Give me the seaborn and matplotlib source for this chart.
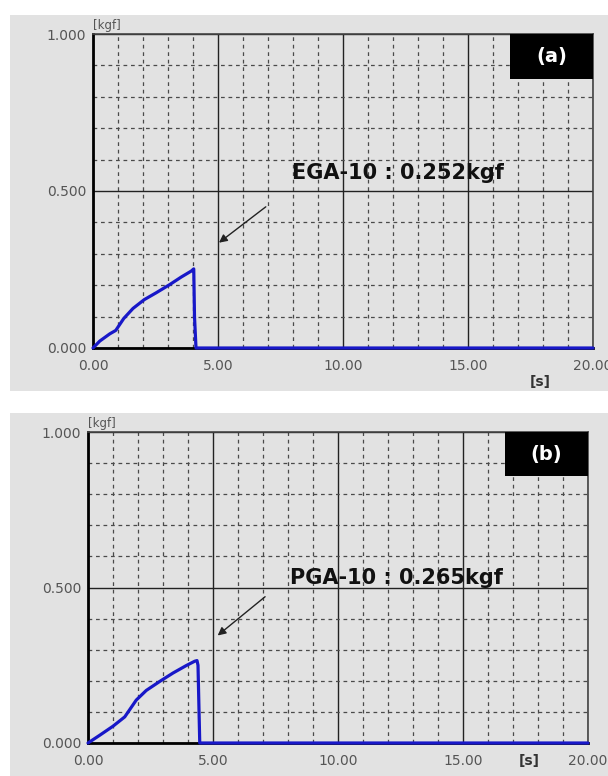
import matplotlib
matplotlib.use('Agg')
import matplotlib.pyplot as plt
from matplotlib.patches import Rectangle
from matplotlib.ticker import MultipleLocator
import seaborn as sns
import pandas as pd

# tempo [s] e força [kgf]
tempo_a = [0, 0.27, 0.67, 0.91, 1.23, 1.6, 2.05, 2.53, 3.07, 3.53, 3.93, 4.03, 4.06, 4.12, 20]
forca_a = [0, 0.022, 0.045, 0.056, 0.094, 0.126, 0.154, 0.176, 0.202, 0.226, 0.245, 0.252, 0.10, 0, 0]

tempo_b = [0, 0.47, 1.0, 1.47, 1.93, 2.33, 2.87, 3.4, 3.93, 4.27, 4.36, 4.40, 4.47, 20]
forca_b = [0, 0.025, 0.054, 0.084, 0.138, 0.169, 0.198, 0.225, 0.249, 0.263, 0.265, 0.25, 0, 0]

rotulos = ['(a)', '(b)']
textos = ['EGA-10 : 0.252kgf', 'PGA-10 : 0.265kgf']
x_ticks = [0, 5, 10, 15, 20]
y_ticks = [0, 0.5, 1.0]

sns.set_style('white')
plt.rcParams['font.family'] = ['DejaVu Sans']

cinza = '#e2e2e2'
azul = '#1818c8'

fig = plt.figure(figsize=(6.08, 7.76), dpi=100)
fig.patch.set_facecolor('white')

# fundos cinzentos de cada painel
fig.patches.append(Rectangle((10/608, 1-391/776), 598/608, 376/776, transform=fig.transFigure,
                             facecolor=cinza, edgecolor='none', zorder=-10))
fig.patches.append(Rectangle((10/608, 0), 598/608, 363/776, transform=fig.transFigure,
                             facecolor=cinza, edgecolor='none', zorder=-10))

ax_a = fig.add_axes([93/608, 1-348/776, 500/608, 314/776])
ax_b = fig.add_axes([88/608, 1-743/776, 500/608, 311/776])

configs = [
    (ax_a, tempo_a, forca_a, (7.94, 0.557), (7.0, 0.455), (4.95, 0.33), (0.894, -0.108)),
    (ax_b, tempo_b, forca_b, (8.1, 0.53), (7.17, 0.476), (5.1, 0.34), (0.882, -0.058)),
]

for i, (ax, t, f, pos_txt, seta_ini, seta_fim, pos_s) in enumerate(configs):
    df = pd.DataFrame({'Tempo': t, 'Forca': f})
    ax.set_facecolor(cinza)
    sns.lineplot(x='Tempo', y='Forca', data=df, ax=ax, color=azul, linewidth=2.3,
                 sort=False, estimator=None, zorder=5, clip_on=False)
    ax.set_xlim(0, 20)
    ax.set_ylim(0, 1)
    ax.set_xticks(x_ticks)
    ax.set_xticklabels(['%.2f' % v for v in x_ticks])
    ax.set_yticks(y_ticks)
    ax.set_yticklabels(['%.3f' % v for v in y_ticks])
    ax.xaxis.set_minor_locator(MultipleLocator(1))
    ax.yaxis.set_minor_locator(MultipleLocator(0.1))
    ax.grid(which='major', color='#222222', linestyle='-', linewidth=1.0)
    ax.grid(which='minor', color='#4a4a4a', linestyle=(0, (3, 3)), linewidth=0.9)
    ax.tick_params(which='both', length=0, labelsize=10, labelcolor='#555555')
    ax.tick_params(axis='x', pad=8)
    ax.tick_params(axis='y', pad=5)
    ax.set_xlabel('')
    ax.set_ylabel('')
    for lado in ['left', 'bottom']:
        ax.spines[lado].set_color('black')
        ax.spines[lado].set_linewidth(2.0)
    for lado in ['top', 'right']:
        ax.spines[lado].set_color('#444444')
        ax.spines[lado].set_linewidth(1.2)

    ax.text(0, 1.005, '[kgf]', transform=ax.transAxes, fontsize=8.5, color='#555555',
            ha='left', va='bottom')
    ax.text(pos_s[0], pos_s[1], '[s]', transform=ax.transAxes, fontsize=10,
            fontweight='bold', color='#333333', ha='center', va='center')

    # caixa preta com o rótulo do painel
    ax.add_patch(Rectangle((0.834, 0.857), 0.166, 0.143, transform=ax.transAxes,
                           facecolor='black', edgecolor='none', zorder=6))
    ax.text(0.917, 0.928, rotulos[i], transform=ax.transAxes, color='white', fontsize=14,
            fontweight='bold', ha='center', va='center', zorder=7)

    ax.text(pos_txt[0], pos_txt[1], textos[i], fontsize=15, fontweight='bold',
            color='#111111', ha='left', va='center', zorder=7)
    ax.annotate('', xy=seta_fim, xytext=seta_ini,
                arrowprops=dict(arrowstyle='-|>', color='#222222', lw=1.0,
                                mutation_scale=12))

fig.savefig('out.png', dpi=100)
